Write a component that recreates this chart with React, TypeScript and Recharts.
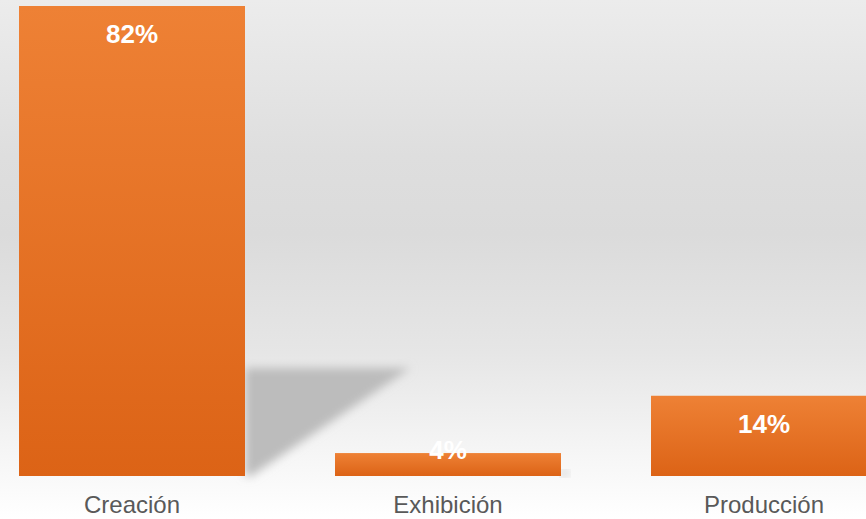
import React from 'react';
import { BarChart, Bar, XAxis, YAxis, LabelList } from 'recharts';

const categories = ['Creación', 'Exhibición', 'Producción'];
const shares = [82, 4, 14];
const shareLabels = ['82%', '4%', '14%'];

const data = categories.map((name, i) => ({ name, value: shares[i], label: shareLabels[i] }));

const FONT = '"Liberation Sans", Arial, sans-serif';

const BarShape = (props: any) => {
  const { x, y, width, height, index } = props;
  const bottom = y + height;
  const sh = height * 0.23;
  const sw = sh * 1.53;
  const right = x + width;
  return (
    <g>
      <defs>
        <linearGradient id={`barFill${index}`} x1="0" y1="0" x2="0" y2="1">
          <stop offset="0%" stopColor="#EE8135" />
          <stop offset="100%" stopColor="#DC6316" />
        </linearGradient>
        <filter id={`shadowBlur${index}`} x="-20%" y="-20%" width="140%" height="140%">
          <feGaussianBlur stdDeviation="5" />
        </filter>
      </defs>
      {sh > 4 && (
        <polygon
          points={`${right},${bottom - sh} ${right + sw},${bottom - sh} ${right + 6},${bottom} ${right},${bottom}`}
          fill="#bcbcbc"
          filter={`url(#shadowBlur${index})`}
        />
      )}
      <rect x={x} y={y} width={width} height={height} fill={`url(#barFill${index})`} />
    </g>
  );
};

const ValueLabel = (props: any) => {
  const { x, y, width, height, value } = props;
  const cy = Math.min(y + 28, y + height - 26);
  return (
    <text
      x={x + width / 2}
      y={cy}
      textAnchor="middle"
      dominantBaseline="central"
      fill="#ffffff"
      fontFamily={FONT}
      fontWeight="bold"
      fontSize={26}
    >
      {value}
    </text>
  );
};

const CategoryTick = (props: any) => {
  const { x, y, payload } = props;
  return (
    <text x={x} y={y + 37} textAnchor="middle" fill="#595959" fontFamily={FONT} fontSize={24}>
      {payload.value}
    </text>
  );
};

export default function App() {
  return (
    <div
      style={{
        position: 'fixed',
        left: 0,
        top: 0,
        width: 866,
        height: 519,
        overflow: 'hidden',
        background:
          'linear-gradient(to bottom, #ececec 0%, #dedede 30%, #dbdbdb 45%, #e6e6e6 68%, #f6f6f6 88%, #ffffff 100%)',
      }}
    >
      <div style={{ position: 'absolute', left: -26, top: 0 }}>
        <BarChart width={948} height={519} data={data} margin={{ top: 6, right: 0, left: 0, bottom: 0 }}>
          <XAxis
            dataKey="name"
            height={43}
            axisLine={false}
            tickLine={false}
            tickSize={0}
            tickMargin={0}
            interval={0}
            tick={<CategoryTick />}
          />
          <YAxis hide domain={[0, 82]} />
          <Bar dataKey="value" barSize={226} shape={<BarShape />} isAnimationActive={false}>
            <LabelList dataKey="label" content={<ValueLabel />} />
          </Bar>
        </BarChart>
      </div>
    </div>
  );
}
